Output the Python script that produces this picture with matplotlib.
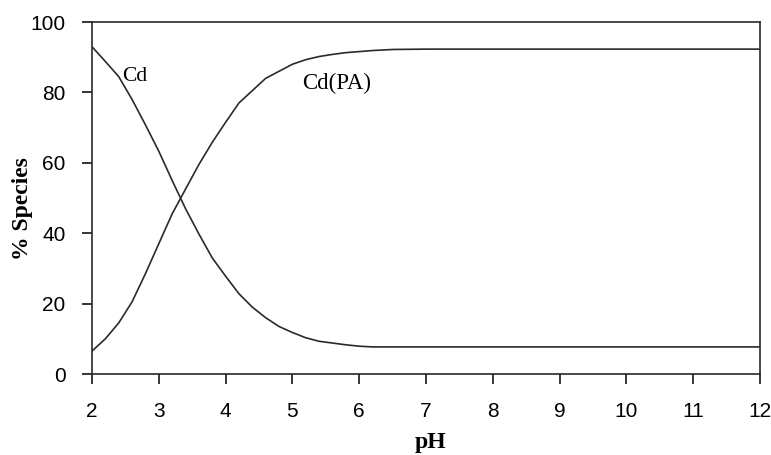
import matplotlib
matplotlib.use("Agg")
import matplotlib.pyplot as plt

# pH grid and species distribution
ph = [2.0, 2.2, 2.4, 2.6, 2.8, 3.0, 3.2, 3.4, 3.6, 3.8, 4.0, 4.2, 4.4, 4.6, 4.8,
      5.0, 5.2, 5.4, 5.6, 5.8, 6.0, 6.2, 6.5, 7, 8, 9, 10, 11, 12]
cd = [93, 88.8, 84.5, 78, 70.8, 63.3, 55, 47, 39.8, 33, 27.8, 22.8, 19, 16, 13.5,
      11.8, 10.3, 9.3, 8.8, 8.3, 7.9, 7.7, 7.7, 7.7, 7.7, 7.7, 7.7, 7.7, 7.7]
cd_pa = [6.5, 10, 14.5, 20.5, 28.5, 37, 45.5, 52.5, 59.5, 65.8, 71.5, 77, 80.5, 84, 86,
         88, 89.3, 90.2, 90.8, 91.3, 91.6, 91.9, 92.2, 92.3, 92.3, 92.3, 92.3, 92.3, 92.3]

plt.rcParams['font.family'] = ['Liberation Serif', 'DejaVu Serif']

fig = plt.figure(figsize=(7.71, 4.55), dpi=100)
ax = fig.add_axes([0.1193, 0.178, 0.8664, 0.7736])

ax.plot(ph, cd, color="#2a2a2a", linewidth=1.2)
ax.plot(ph, cd_pa, color="#2a2a2a", linewidth=1.2)

ax.text(2.45, 84.5, "Cd", fontsize=15.5, ha="left", va="center")
ax.text(5.15, 82.5, "Cd(PA)", fontsize=16.5, ha="left", va="center")

ax.set_xlim(2, 12)
ax.set_ylim(0, 100)
ax.set_xticks(range(2, 13))
ax.set_yticks(range(0, 101, 20))
ax.tick_params(direction="out", length=7, width=1.1, labelsize=15)
ax.tick_params(axis="x", pad=13)
ax.tick_params(axis="y", pad=12)
for lab in ax.get_xticklabels() + ax.get_yticklabels():
    lab.set_family(["Liberation Sans", "DejaVu Sans"])
for s in ax.spines.values():
    s.set_linewidth(1.2)
    s.set_color("#2a2a2a")

ax.set_xlabel("pH", fontsize=17, fontweight="bold")
ax.set_ylabel("% Species", fontsize=17, fontweight="bold")
ax.xaxis.set_label_coords(0.507, -0.165)
ax.yaxis.set_label_coords(-0.088, 0.47)

fig.savefig("out.png", dpi=100)
